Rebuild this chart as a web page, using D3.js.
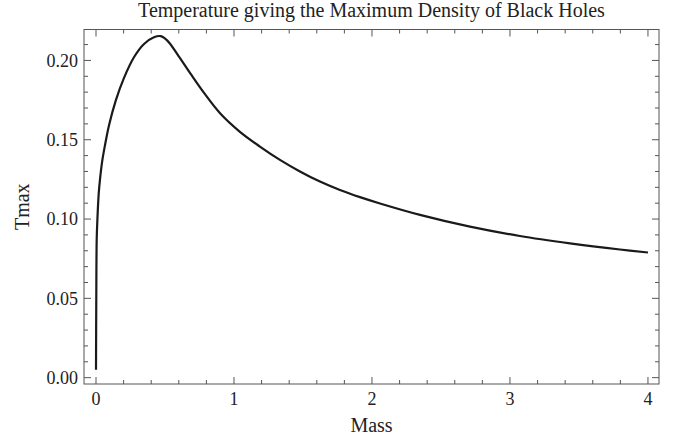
<!DOCTYPE html>
<html>
<head>
<meta charset="utf-8">
<script src="https://cdn.jsdelivr.net/npm/d3@7/dist/d3.min.js"></script>
<style>
  html, body { margin: 0; padding: 0; background: #fff; }
  svg { display: block; font-family: "Liberation Serif", "DejaVu Serif", serif; }
</style>
</head>
<body>
<svg id="chart" width="677" height="440"></svg>
<script>
// Mass values and the corresponding temperature of maximum density
const mass = [0.000, 0.002, 0.005, 0.0097, 0.0196, 0.029, 0.045, 0.065, 0.094, 0.143,
              0.203, 0.275, 0.348, 0.420, 0.469, 0.517, 0.589, 0.686, 0.783, 0.899,
              1.043, 1.188, 1.333, 1.478, 1.623, 1.768, 1.913, 2.058, 2.348, 2.710,
              3.072, 3.435, 3.797, 4.000];
const tmax = [0.005, 0.049, 0.087, 0.099, 0.116, 0.125, 0.1365, 0.1465, 0.159, 0.1747,
              0.189, 0.202, 0.2104, 0.2146, 0.2153, 0.2125, 0.204, 0.1915, 0.1795, 0.1667,
              0.155, 0.1457, 0.1373, 0.130, 0.1236, 0.1183, 0.1138, 0.1098, 0.1026, 0.0952,
              0.0893, 0.0847, 0.0808, 0.0789];

const xMajor = [0, 1, 2, 3, 4];
const yMajor = [0.00, 0.05, 0.10, 0.15, 0.20];
const xMinor = d3.range(0, 4.01, 0.2);
const yMinor = d3.range(0, 0.2195, 0.01);

const titleText = "Temperature giving the Maximum Density of Black Holes";
const xLabel = "Mass";
const yLabel = "Tmax";

const svg = d3.select("#chart");
const plotLeft = 84, plotRight = 659, plotTop = 29.5, plotBottom = 384;

const x = d3.scaleLinear().domain([-0.087, 4.08]).range([plotLeft, plotRight]);
const y = d3.scaleLinear().domain([-0.004, 0.2195]).range([plotBottom, plotTop]);

const axisColor = "#555";
const textColor = "#222";
const majorLen = 7, minorLen = 4;

// Frame
svg.append("rect")
  .attr("x", plotLeft).attr("y", plotTop)
  .attr("width", plotRight - plotLeft).attr("height", plotBottom - plotTop)
  .attr("fill", "none").attr("stroke", axisColor).attr("stroke-width", 1);

const ticks = svg.append("g").attr("stroke", axisColor).attr("stroke-width", 1);

const isMajor = (v, list) => list.some(m => Math.abs(m - v) < 1e-6);

// X ticks on bottom and top, pointing inward
xMinor.forEach(v => {
  const len = isMajor(v, xMajor) ? majorLen : minorLen;
  const px = x(v);
  ticks.append("line").attr("x1", px).attr("x2", px).attr("y1", plotBottom).attr("y2", plotBottom - len);
  ticks.append("line").attr("x1", px).attr("x2", px).attr("y1", plotTop).attr("y2", plotTop + len);
});
// Y ticks on left and right, pointing inward
yMinor.forEach(v => {
  const len = isMajor(v, yMajor) ? majorLen : minorLen;
  const py = y(v);
  ticks.append("line").attr("y1", py).attr("y2", py).attr("x1", plotLeft).attr("x2", plotLeft + len);
  ticks.append("line").attr("y1", py).attr("y2", py).attr("x1", plotRight).attr("x2", plotRight - len);
});

// Tick labels
const tickFs = 18;
svg.append("g").selectAll("text").data(xMajor).join("text")
  .attr("x", d => x(d)).attr("y", plotBottom + 21)
  .attr("text-anchor", "middle").attr("font-size", tickFs).attr("fill", textColor)
  .text(d => d3.format("d")(d));

svg.append("g").selectAll("text").data(yMajor).join("text")
  .attr("x", plotLeft - 6).attr("y", d => y(d)).attr("dy", "0.35em")
  .attr("text-anchor", "end").attr("font-size", tickFs).attr("fill", textColor)
  .text(d => d3.format(".2f")(d));

// Curve
const line = d3.line()
  .x((d, i) => x(mass[i]))
  .y((d, i) => y(tmax[i]))
  .curve(d3.curveCatmullRom.alpha(0.5));

svg.append("path")
  .datum(mass)
  .attr("d", line)
  .attr("fill", "none")
  .attr("stroke", "#1a1a1a")
  .attr("stroke-width", 2.2)
  .attr("stroke-linejoin", "round");

// Titles
svg.append("text")
  .attr("x", (plotLeft + plotRight) / 2).attr("y", 17)
  .attr("text-anchor", "middle").attr("font-size", 20).attr("fill", textColor)
  .text(titleText);

svg.append("text")
  .attr("x", (plotLeft + plotRight) / 2).attr("y", 432)
  .attr("text-anchor", "middle").attr("font-size", 20).attr("fill", textColor)
  .text(xLabel);

svg.append("text")
  .attr("transform", `translate(29, ${(plotTop + plotBottom) / 2}) rotate(-90)`)
  .attr("text-anchor", "middle").attr("font-size", 20).attr("fill", textColor)
  .text(yLabel);
</script>
</body>
</html>
